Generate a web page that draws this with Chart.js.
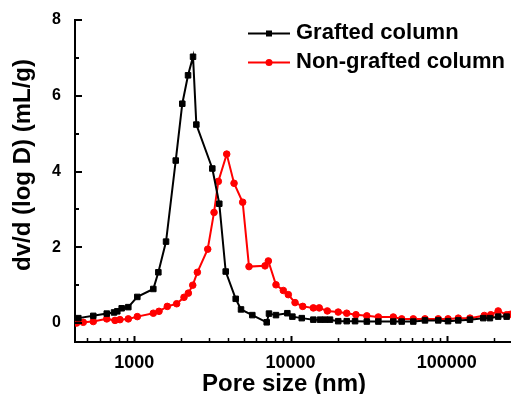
<!DOCTYPE html>
<html>
<head>
<meta charset="utf-8">
<script src="https://cdn.jsdelivr.net/npm/chart.js@4.4.1/dist/chart.umd.min.js"></script>
<style>
  body { margin: 0; background: #fff; }
  canvas { display: block; }
</style>
</head>
<body>
<canvas id="chart_pores" width="511" height="394"></canvas>
<script>
// pore size distribution
var seriesNames = ['Grafted column', 'Non-grafted column'];

var xGrafted = [438, 546, 666, 741, 778, 830, 915, 1045, 1323, 1425, 1596, 1841, 2028, 2207, 2376, 2495,
  3157, 3499, 3846, 4457, 4820, 5693, 7040, 7280, 8072, 9544, 10280, 11800, 14000, 15450, 16640, 17900,
  20200, 22900, 25900, 30800, 36500, 45500, 51500, 61100, 72600, 88300, 102000, 118600, 140900, 171400,
  189000, 213600, 242000];
var yGrafted = [0.13, 0.19, 0.25, 0.28, 0.31, 0.39, 0.42, 0.69, 0.90, 1.34, 2.15, 4.29, 5.79, 6.54, 7.03, 5.24,
  4.08, 3.15, 1.36, 0.64, 0.36, 0.21, 0.02, 0.25, 0.21, 0.26, 0.17, 0.13, 0.09, 0.09, 0.09, 0.09,
  0.05, 0.05, 0.05, 0.04, 0.04, 0.04, 0.04, 0.04, 0.07, 0.07, 0.05, 0.07, 0.09, 0.13,
  0.13, 0.17, 0.17];

var xNonGrafted = [427, 471, 546, 666, 752, 809, 915, 1045, 1323, 1439, 1626, 1867, 2080, 2217, 2366, 2532,
  2950, 3238, 3449, 3904, 4349, 4940, 5423, 6866, 7211, 8072, 8991, 9680, 10690, 11970, 14000, 15270,
  17210, 20200, 22900, 26240, 30800, 36500, 45500, 51500, 61100, 72600, 88300, 102000, 118600, 140900,
  174000, 191400, 213600, 242000, 256000];
var yNonGrafted = [0.0, 0.02, 0.04, 0.11, 0.07, 0.09, 0.11, 0.17, 0.26, 0.31, 0.44, 0.51, 0.68, 0.79, 1.00, 1.34,
  1.95, 2.92, 3.74, 4.46, 3.69, 3.19, 1.49, 1.51, 1.64, 1.01, 0.86, 0.75, 0.54, 0.44, 0.40, 0.40,
  0.32, 0.29, 0.26, 0.22, 0.19, 0.16, 0.16, 0.11, 0.11, 0.11, 0.11, 0.11, 0.13, 0.13,
  0.20, 0.22, 0.32, 0.22, 0.23];

// axis stuff
var xMin = 417, xMax = 258000;
var yMin = -0.5, yMax = 8;
var xTickLabels = [1000, 10000, 100000];
var yTickLabels = [0, 2, 4, 6, 8];
var yMinorTicks = [1, 3, 5, 7];
var xTitle = 'Pore size (nm)';
var yTitle = 'dv/d (log D) (mL/g)';

var fontFam = '"Liberation Sans", Arial, sans-serif';

function toPoints(xs, ys) {
  var pts = [];
  for (var i = 0; i < xs.length; i++) pts.push({ x: xs[i], y: ys[i] });
  return pts;
}

// ticks pointing inwards (like origin does), plus axis titles and the legend
var originLook = {
  id: 'originLook',
  afterDraw: function(chart) {
    var ctx = chart.ctx;
    var xs = chart.scales.x, ys = chart.scales.y;
    var area = chart.chartArea;
    ctx.save();
    ctx.strokeStyle = '#000';

    // x ticks
    for (var d = 100; d <= 100000; d *= 10) {
      for (var m = 1; m <= 9; m++) {
        var v = m * d;
        if (v < xMin || v > xMax) continue;
        var px = Math.round(xs.getPixelForValue(v)) + 0.5;
        var len = (m === 1) ? 6 : 4;
        ctx.lineWidth = (m === 1) ? 2 : 1.5;
        ctx.beginPath();
        ctx.moveTo(px, area.bottom);
        ctx.lineTo(px, area.bottom - len);
        ctx.stroke();
      }
    }
    // y ticks
    var allY = yTickLabels.concat(yMinorTicks);
    allY.forEach(function(v) {
      var py = Math.round(ys.getPixelForValue(v));
      var major = yTickLabels.indexOf(v) >= 0;
      ctx.lineWidth = 2;
      ctx.beginPath();
      ctx.moveTo(area.left, py);
      ctx.lineTo(area.left + (major ? 7 : 4), py);
      ctx.stroke();
    });

    // axis titles
    ctx.fillStyle = '#000';
    ctx.font = 'bold 24px ' + fontFam;
    ctx.textAlign = 'center';
    ctx.textBaseline = 'alphabetic';
    ctx.fillText(xTitle, 284, 391);

    ctx.save();
    ctx.translate(23.5, 165);
    ctx.rotate(-Math.PI / 2);
    ctx.textBaseline = 'middle';
    ctx.fillText(yTitle, 0, 0);
    ctx.restore();

    // legend
    var rows = [33.5, 62.5];
    chart.data.datasets.forEach(function(ds, i) {
      var y = rows[i];
      ctx.strokeStyle = ds.borderColor;
      ctx.lineWidth = 2;
      ctx.beginPath();
      ctx.moveTo(248, y);
      ctx.lineTo(290, y);
      ctx.stroke();
      ctx.fillStyle = ds.borderColor;
      if (ds.pointStyle === 'rect') {
        ctx.fillRect(266, y - 3, 6, 6);
      } else {
        ctx.beginPath();
        ctx.arc(269, y, 3.5, 0, Math.PI * 2);
        ctx.fill();
      }
      ctx.fillStyle = '#000';
      ctx.font = 'bold 22px ' + fontFam;
      ctx.textAlign = 'left';
      ctx.textBaseline = 'middle';
      ctx.fillText(ds.label, 296, y - 0.5);
    });

    ctx.restore();
  }
};

var ctxPores = document.getElementById('chart_pores').getContext('2d');

var configPores = {
  type: 'line',
  data: {
    datasets: [
      {
        label: seriesNames[0],
        data: toPoints(xGrafted, yGrafted),
        borderColor: '#000000',
        backgroundColor: '#000000',
        borderWidth: 2,
        pointStyle: 'rect',
        pointRadius: 3.9,
        pointBorderWidth: 1,
        tension: 0,
        fill: false
      },
      {
        label: seriesNames[1],
        data: toPoints(xNonGrafted, yNonGrafted),
        borderColor: '#ff0000',
        backgroundColor: '#ff0000',
        borderWidth: 2,
        pointStyle: 'circle',
        pointRadius: 3.3,
        pointBorderWidth: 1,
        tension: 0,
        fill: false
      }
    ]
  },
  options: {
    responsive: false,
    animation: false,
    layout: { autoPadding: false, padding: { top: 20, right: 0, left: 0, bottom: 0 } },
    plugins: {
      legend: { display: false },
      tooltip: { enabled: false }
    },
    scales: {
      x: {
        type: 'logarithmic',
        min: xMin,
        max: xMax,
        grid: { display: false },
        border: { display: true, color: '#000', width: 2 },
        afterBuildTicks: function(scale) {
          scale.ticks = xTickLabels.map(function(v) { return { value: v }; });
        },
        afterFit: function(scale) {
          scale.height = 52;
          // axis should run to the right edge
          scale.paddingRight = 0;
          scale.paddingLeft = 0;
        },
        ticks: {
          color: '#000',
          padding: 2,
          maxRotation: 0,
          autoSkip: false,
          font: { family: fontFam, size: 18, weight: 'bold' },
          callback: function(v) { return String(v); }
        }
      },
      y: {
        min: yMin,
        max: yMax,
        grid: { display: false },
        border: { display: true, color: '#000', width: 2 },
        afterBuildTicks: function(scale) {
          scale.ticks = yTickLabels.map(function(v) { return { value: v }; });
        },
        afterFit: function(scale) { scale.width = 75; },
        ticks: {
          color: '#000',
          padding: 6,
          font: { family: fontFam, size: 16, weight: 'bold' },
          callback: function(v) { return String(v); }
        }
      }
    }
  },
  plugins: [originLook]
};

var chartPores = new Chart(ctxPores, configPores);
</script>
</body>
</html>
